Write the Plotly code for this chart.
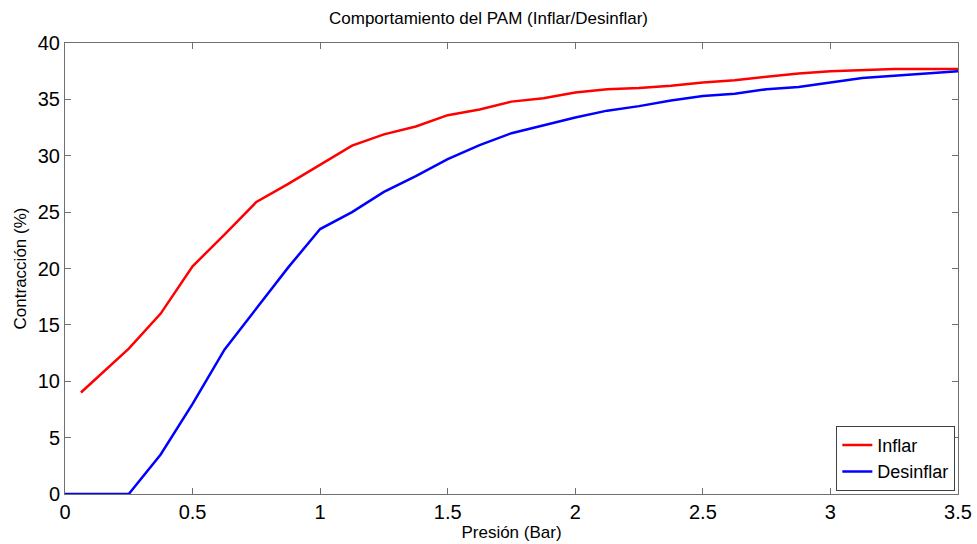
import plotly.graph_objects as go

presion_inflar = [0.0625, 0.125, 0.25, 0.375, 0.5, 0.625, 0.75, 0.875, 1.0, 1.125, 1.25, 1.375, 1.5, 1.625,
                  1.75, 1.875, 2.0, 2.125, 2.25, 2.375, 2.5, 2.625, 2.75, 2.875, 3.0, 3.125, 3.25, 3.375, 3.5]
contraccion_inflar = [9.0, 10.3, 12.9, 16.0, 20.2, 23.0, 25.9, 27.5, 29.2, 30.9, 31.9, 32.6, 33.6, 34.1,
                      34.8, 35.1, 35.6, 35.9, 36.0, 36.2, 36.5, 36.7, 37.0, 37.3, 37.5, 37.6, 37.7, 37.7, 37.7]

presion_desinflar = [0.0, 0.125, 0.25, 0.375, 0.5, 0.625, 0.75, 0.875, 1.0, 1.125, 1.25, 1.375, 1.5, 1.625,
                     1.75, 1.875, 2.0, 2.125, 2.25, 2.375, 2.5, 2.625, 2.75, 2.875, 3.0, 3.125, 3.25, 3.375, 3.5]
contraccion_desinflar = [0.0, 0.0, 0.0, 3.5, 8.0, 12.8, 16.5, 20.1, 23.5, 25.0, 26.8, 28.2, 29.7, 30.95,
                         32.0, 32.7, 33.4, 34.0, 34.4, 34.9, 35.3, 35.5, 35.9, 36.1, 36.5, 36.9, 37.1, 37.3, 37.5]

x_ticks = [0, 0.5, 1, 1.5, 2, 2.5, 3, 3.5]
x_labels = ["0", "0.5", "1", "1.5", "2", "2.5", "3", "3.5"]
y_ticks = [0, 5, 10, 15, 20, 25, 30, 35, 40]

fig = go.Figure()
fig.add_trace(go.Scatter(x=presion_inflar, y=contraccion_inflar, mode="lines", name="Inflar",
                         line=dict(color="#ff0000", width=2.5)))
fig.add_trace(go.Scatter(x=presion_desinflar, y=contraccion_desinflar, mode="lines", name="Desinflar",
                         line=dict(color="#0000ff", width=2.5)))

axis_common = dict(showgrid=False, zeroline=False, showline=True, linecolor="#707070", linewidth=1,
                   mirror="ticks", ticks="inside", ticklen=6, tickcolor="#707070", automargin=False,
                   tickfont=dict(family="Liberation Sans, Arial", size=20, color="black"))

fig.update_layout(
    width=977, height=544,
    paper_bgcolor="white", plot_bgcolor="white",
    margin=dict(l=65, r=19, t=43, b=50),
    title=dict(text="Comportamiento del PAM (Inflar/Desinflar)", x=0.5, xanchor="center",
               y=0.967, yanchor="middle",
               font=dict(family="Liberation Sans, Arial", size=17, color="black")),
    xaxis=dict(range=[0, 3.5], tickvals=x_ticks, ticktext=x_labels,
               title=dict(text="Presión (Bar)", standoff=4,
                          font=dict(family="Liberation Sans, Arial", size=17, color="black")),
               **axis_common),
    yaxis=dict(range=[0, 40], tickvals=y_ticks,
               title=dict(text="Contracción (%)", standoff=6,
                          font=dict(family="Liberation Sans, Arial", size=17, color="black")),
               **axis_common),
    legend=dict(x=0.997, y=0.007, xanchor="right", yanchor="bottom",
                bgcolor="white", bordercolor="#404040", borderwidth=1,
                font=dict(family="Liberation Sans, Arial", size=18, color="black"),
                tracegroupgap=0, itemwidth=30),
    showlegend=True,
)

fig.write_html("out.html")
